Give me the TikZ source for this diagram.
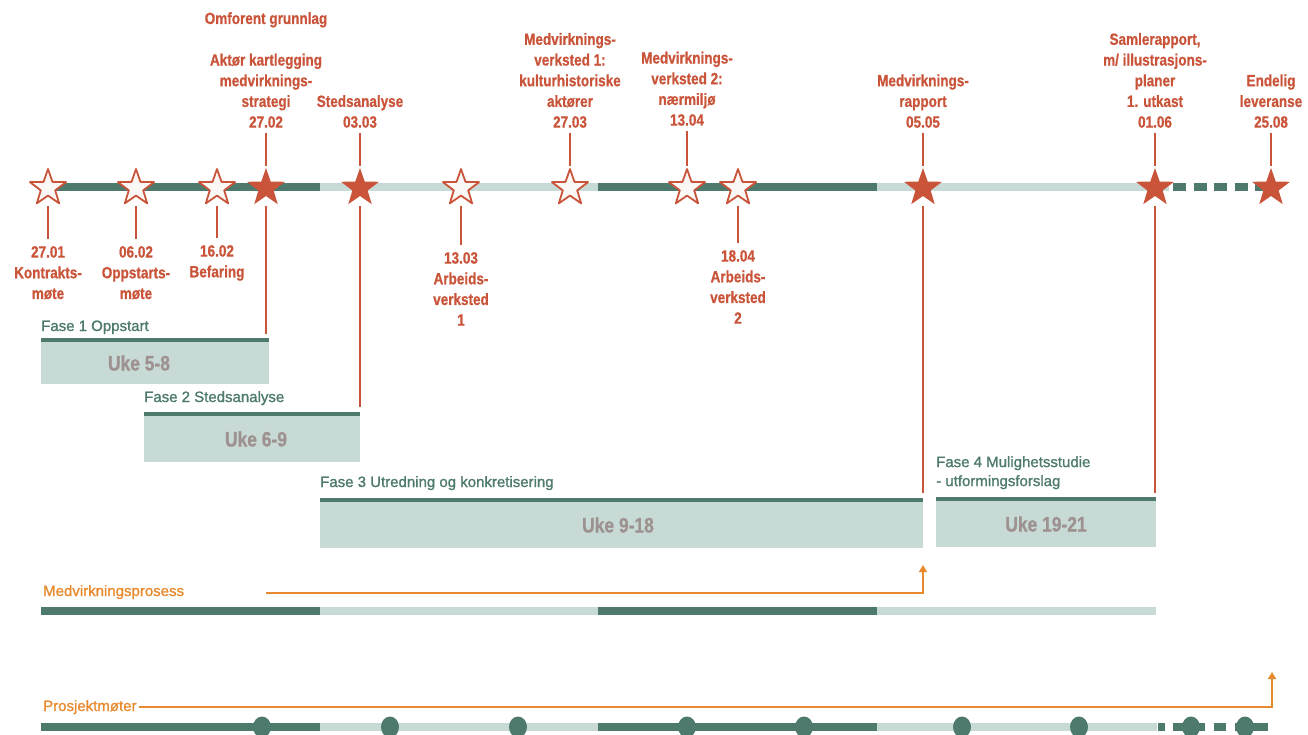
\documentclass[tikz,border=0pt]{standalone}
\usepackage{fontspec}
\setmainfont{Liberation Sans}
\newfontfamily\condbold{Liberation Sans Bold}[FakeStretch=0.83, FakeBold=0.7]
\newfontfamily\medfont{Liberation Sans}[FakeBold=1.2]
\usetikzlibrary{shapes.geometric,arrows.meta}
\definecolor{tred}{HTML}{C9543A}
\definecolor{tdark}{HTML}{4E7A6E}
\definecolor{tlight}{HTML}{C8DAD6}
\definecolor{tgrey}{HTML}{9D9290}
\definecolor{torange}{HTML}{E88A2E}
\definecolor{starfill}{HTML}{FAF7F5}
\begin{document}
\begin{tikzpicture}[x=1pt,y=-1pt,
  redlbl/.style={font=\condbold\fontsize{16.3}{20.7}\selectfont, text=tred, align=center, inner sep=0pt},
  phaselbl/.style={font=\medfont\fontsize{15}{19}\selectfont, text=tdark, align=left, inner sep=0pt},
  ukelbl/.style={font=\condbold\fontsize{21}{24}\selectfont, text=tgrey, inner sep=0pt},
  proclbl/.style={font=\medfont\fontsize{15}{19}\selectfont, text=torange, inner sep=0pt},
  openstar/.style={star, star points=5, star point ratio=2.5, minimum size=38pt, inner sep=0pt, draw=tred, line width=1.8pt, line join=round, fill=starfill},
  fullstar/.style={star, star points=5, star point ratio=2.5, minimum size=40pt, inner sep=0pt, fill=tred},
  tick/.style={draw=tred, line width=1.8pt},
  bardark/.style={draw=tdark, line width=8pt},
  barlight/.style={draw=tlight, line width=8pt},
  barstripe/.style={fill=tdark},
  phasebox/.style={fill=tlight, inner sep=0pt, anchor=north west},
  meet/.style={ellipse, fill=tdark, minimum width=18pt, minimum height=21pt, inner sep=0pt},
  oline/.style={draw=torange, line width=1.6pt, -{Triangle[width=8pt,length=7pt]}}
]
\useasboundingbox (0,0) rectangle (1308,735);
\clip (0,0) rectangle (1308,735);

% main timeline
\draw[bardark] (48,187) -- (320,187);
\draw[barlight] (320,187) -- (598,187);
\draw[bardark] (598,187) -- (877,187);
\draw[barlight] (877,187) -- (1169,187);
\draw[bardark, dash pattern=on 13pt off 7.5pt] (1173,187) -- (1266,187);

% stars
\node[openstar] (s1) at (48,188) {};
\node[openstar] (s2) at (136,188) {};
\node[openstar] (s3) at (217,188) {};
\node[fullstar] (s4) at (266,188) {};
\node[fullstar] (s5) at (360,188) {};
\node[openstar] (s6) at (461,188) {};
\node[openstar] (s7) at (570,188) {};
\node[openstar] (s8) at (687,188) {};
\node[openstar] (s9) at (738,188) {};
\node[fullstar] (s10) at (923,188) {};
\node[fullstar] (s11) at (1155,188) {};
\node[fullstar] (s12) at (1271,188) {};

% labels above
\node[redlbl, anchor=base] (t4a) at (266,24) {Omforent grunnlag};
\node[redlbl, anchor=south] (t4) at (266,128) {Aktør kartlegging\\medvirknings-\\strategi\\27.02};
\node[redlbl, anchor=south] (t5) at (360,128) {Stedsanalyse\\03.03};
\node[redlbl, anchor=south] (t7) at (570,128) {Medvirknings-\\verksted 1:\\kulturhistoriske\\aktører\\27.03};
\node[redlbl, anchor=south] (t8) at (687,126) {Medvirknings-\\verksted 2:\\nærmiljø\\13.04};
\node[redlbl, anchor=south] (t10) at (923,128) {Medvirknings-\\rapport\\05.05};
\node[redlbl, anchor=south] (t11) at (1155,128) {Samlerapport,\\m/ illustrasjons-\\planer\\1. utkast\\01.06};
\node[redlbl, anchor=south] (t12) at (1271,128) {Endelig\\leveranse\\25.08};

% labels below
\node[redlbl, anchor=north] (b1) at (48,246) {27.01\\Kontrakts-\\møte};
\node[redlbl, anchor=north] (b2) at (136,246) {06.02\\Oppstarts-\\møte};
\node[redlbl, anchor=north] (b3) at (217,245) {16.02\\Befaring};
\node[redlbl, anchor=north] (b6) at (461,252) {13.03\\Arbeids-\\verksted\\1};
\node[redlbl, anchor=north] (b9) at (738,250) {18.04\\Arbeids-\\verksted\\2};

% ticks above
\foreach \s/\t in {s4/t4,s5/t5,s7/t7,s8/t8,s10/t10,s11/t11,s12/t12}
  \draw[tick, shorten <=22pt, shorten >=5pt] (\s.center) -- (\t.south);
% ticks below
\foreach \s/\b in {s1/b1,s2/b2,s3/b3,s6/b6,s9/b9}
  \draw[tick, shorten <=18pt, shorten >=7pt] (\s.center) -- (\b.north);

% long drop lines
\coordinate (c4) at (266,334);
\coordinate (c5) at (360,407);
\coordinate (c10) at (923,493);
\coordinate (c11) at (1155,493);
\foreach \s/\c in {s4/c4,s5/c5,s10/c10,s11/c11}
  \draw[tick, shorten <=18pt] (\s.center) -- (\c);

% phases
\node[phaselbl, anchor=base west] (f1) at (41,331) {Fase 1 Oppstart};
\fill[barstripe] (41,338) rectangle (269,342);
\node[phasebox, minimum width=228pt, minimum height=42pt] (p1) at (41,342) {};
\node[ukelbl] (u1) at (139,363) {Uke 5-8};

\node[phaselbl, anchor=base west] (f2) at (144,402) {Fase 2 Stedsanalyse};
\fill[barstripe] (144,412) rectangle (360,416);
\node[phasebox, minimum width=216pt, minimum height=46pt] (p2) at (144,416) {};
\node[ukelbl] (u2) at (256,439) {Uke 6-9};

\node[phaselbl, anchor=base west] (f3) at (320,487) {Fase 3 Utredning og konkretisering};
\fill[barstripe] (320,498) rectangle (923,502);
\node[phasebox, minimum width=603pt, minimum height=46pt] (p3) at (320,502) {};
\node[ukelbl] (u3) at (618,525) {Uke 9-18};

\node[phaselbl, anchor=north west] (f4) at (936,456) {Fase 4 Mulighetsstudie\\- utformingsforslag};
\fill[barstripe] (936,497) rectangle (1156,501);
\node[phasebox, minimum width=220pt, minimum height=46pt] (p4) at (936,501) {};
\node[ukelbl] (u4) at (1046,524) {Uke 19-21};

% Medvirkningsprosess
\node[proclbl, anchor=base west] (mp) at (43,596) {Medvirkningsprosess};
\coordinate (ms) at (266,593);
\coordinate (me) at (923,565);
\draw[oline] (ms) -| (me);
\draw[bardark] (41,611) -- (320,611);
\draw[barlight] (320,611) -- (598,611);
\draw[bardark] (598,611) -- (877,611);
\draw[barlight] (877,611) -- (1156,611);

% Prosjektmoter
\node[proclbl, anchor=base west] (pm) at (43,711) {Prosjektmøter};
\coordinate (pe) at (1272,672);
\draw[oline, shorten <=2pt] (pm.east) -| (pe);
\draw[bardark] (41,727) -- (320,727);
\draw[barlight] (320,727) -- (598,727);
\draw[bardark] (598,727) -- (877,727);
\draw[barlight] (877,727) -- (1157,727);
\draw[bardark] (1158,727) -- (1165,727);
\draw[bardark] (1173,727) -- (1205,727);
\draw[bardark] (1214,727) -- (1226,727);
\draw[bardark] (1235,727) -- (1268,727);
\foreach \i/\x in {1/262,2/390,3/518,4/687,5/804,6/962,7/1079,8/1191,9/1245}
  \node[meet] (m\i) at (\x,727) {};
\end{tikzpicture}
\end{document}
